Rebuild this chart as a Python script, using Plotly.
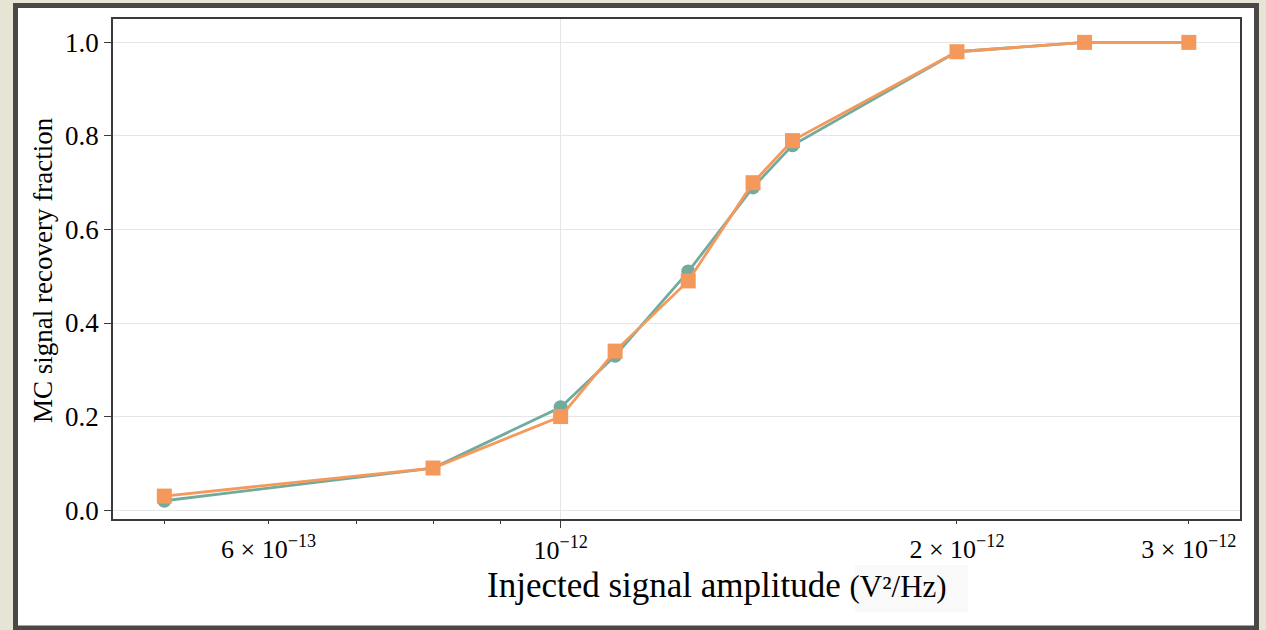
import plotly.graph_objects as go

# ---- data ----
amplitude = [5e-13, 8e-13, 1e-12, 1.1e-12, 1.25e-12, 1.4e-12, 1.5e-12, 2e-12, 2.5e-12, 3e-12]
frac_teal = [0.02, 0.09, 0.22, 0.33, 0.51, 0.69, 0.78, 0.98, 1.00, 1.00]
frac_orange = [0.03, 0.09, 0.20, 0.34, 0.49, 0.70, 0.79, 0.98, 1.00, 1.00]

y_ticks = [0.0, 0.2, 0.4, 0.6, 0.8, 1.0]
major_x = [1e-12]
major_x_text = ["10<sup>\u221212</sup>"]
labeled_minor_x = [6e-13, 2e-12, 3e-12]
labeled_minor_text = ["6 \u00d7 10<sup>\u221213</sup>", "2 \u00d7 10<sup>\u221212</sup>", "3 \u00d7 10<sup>\u221212</sup>"]
minor_x = [5e-13, 6e-13, 7e-13, 8e-13, 9e-13, 2e-12, 3e-12]

TEAL = "#72ab9e"
ORANGE = "#f4995b"
AXC = "#3a3a3a"
FONT = "Liberation Serif"

W, H = 1266, 630
L, R, T, B = 113, 26, 19, 111
PW, PH = W - L - R, H - T - B


def px(x):
    return (x - L) / PW


def py(y):
    return (H - B - y) / PH


xrange_log = [-12.340, -11.484]

fig = go.Figure()
fig.add_trace(go.Scatter(
    x=amplitude, y=frac_teal, mode="lines+markers",
    line=dict(color=TEAL, width=2.8),
    marker=dict(symbol="circle", size=14, color=TEAL),
    showlegend=False,
))
fig.add_trace(go.Scatter(
    x=amplitude, y=frac_orange, mode="lines+markers",
    line=dict(color=ORANGE, width=2.8),
    marker=dict(symbol="square", size=15, color=ORANGE),
    showlegend=False,
))
# invisible trace to hold the overlay axis carrying labeled minor ticks
fig.add_trace(go.Scatter(
    x=labeled_minor_x, y=[0.5] * len(labeled_minor_x), xaxis="x2",
    mode="markers", marker=dict(opacity=0), hoverinfo="skip", showlegend=False,
))

fig.update_layout(
    width=W, height=H,
    margin=dict(l=L, r=R, t=T, b=B),
    paper_bgcolor="#e6e4d4",
    plot_bgcolor="white",
    font=dict(family=FONT, size=26, color="black"),
    xaxis=dict(
        type="log", range=xrange_log,
        tickmode="array", tickvals=major_x, ticktext=major_x_text,
        ticks="outside", ticklen=7, tickwidth=1.2, tickcolor=AXC,
        showgrid=True, gridcolor="#e6e6e6", gridwidth=1,
        showline=True, linecolor=AXC, linewidth=1.5, mirror=True,
        zeroline=False,
        tickfont=dict(family=FONT, size=26, color="black"),
        minor=dict(tickmode="array", tickvals=minor_x, ticks="outside",
                   ticklen=3.5, tickwidth=1.2, tickcolor=AXC, showgrid=False),
    ),
    xaxis2=dict(
        type="log", range=xrange_log, overlaying="x", side="bottom", anchor="y",
        tickmode="array", tickvals=labeled_minor_x, ticktext=labeled_minor_text,
        ticks="outside", ticklen=7, tickcolor="rgba(0,0,0,0)",
        showgrid=False, showline=False, zeroline=False,
        tickfont=dict(family=FONT, size=26, color="black"),
    ),
    yaxis=dict(
        range=[-0.019, 1.05],
        tickmode="array", tickvals=y_ticks, tickformat=".1f",
        ticks="outside", ticklen=7, tickwidth=1.2, tickcolor=AXC,
        showgrid=True, gridcolor="#e6e6e6", gridwidth=1,
        showline=True, linecolor=AXC, linewidth=1.5, mirror=True,
        zeroline=False,
        tickfont=dict(family=FONT, size=27, color="black"),
    ),
    shapes=[
        dict(type="rect", xref="paper", yref="paper", layer="below",
             x0=px(15.5), x1=px(1256.5), y0=py(628), y1=py(5.5),
             fillcolor="white", line=dict(color="#4d4646", width=5)),
        dict(type="rect", xref="paper", yref="paper", layer="below",
             x0=px(855), x1=px(968), y0=py(612), y1=py(565),
             fillcolor="#f9f9f9", line=dict(width=0)),
    ],
    annotations=[
        dict(text="Injected signal amplitude <span style='font-size:31px'>(V\u00b2/Hz)</span>",
             xref="paper", yref="paper", x=px(485), y=py(585),
             xanchor="left", yanchor="middle", showarrow=False,
             font=dict(family=FONT, size=35, color="black")),
        dict(text="MC signal recovery fraction", textangle=-90,
             xref="paper", yref="paper", x=px(43), y=py(270),
             xanchor="center", yanchor="middle", showarrow=False,
             font=dict(family=FONT, size=27, color="black")),
    ],
)

fig.write_html("out.html")
